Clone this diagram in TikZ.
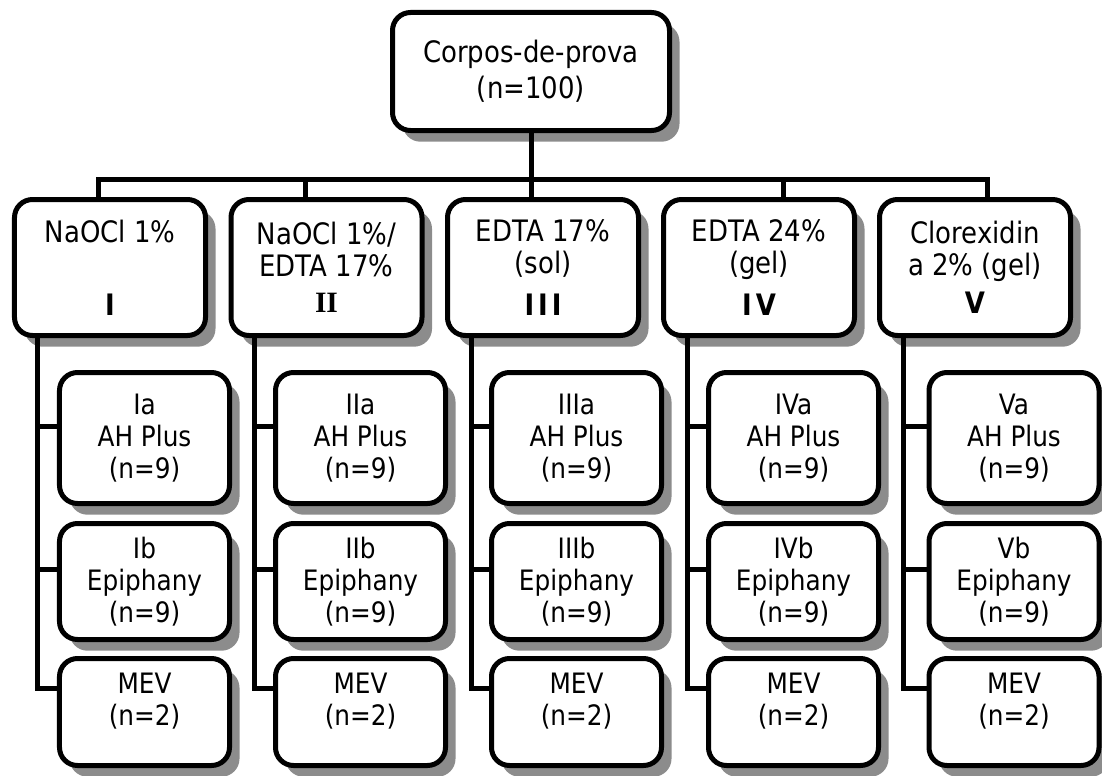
\documentclass[tikz,border=0pt]{standalone}
\usepackage{fontspec}
\setmainfont{DejaVu Sans}[FakeStretch=0.88]
\newfontfamily\romfont{Liberation Serif}
\usetikzlibrary{shadows}

\tikzset{
  box/.style={draw, line width=1.25mm, rounded corners=4.5mm, fill=white, align=center, inner sep=0pt,
    drop shadow={shadow xshift=2.5mm, shadow yshift=-2.8mm, fill=black!45, opacity=1}},
  group/.style={box, minimum width=47.75mm, minimum height=34mm, font=\fontsize{21}{22.7}\selectfont},
  sub/.style={box, minimum width=42.5mm, font=\fontsize{20}{22.7}\selectfont},
  link/.style={line width=1.25mm}
}

\begin{document}
\begin{tikzpicture}[x=0.25mm, y=-0.25mm]
\useasboundingbox (0,0) rectangle (1102,776);
\node[box, minimum width=69.25mm, minimum height=29.5mm, font=\fontsize{21}{22.7}\selectfont] (root) at (531,71.5) {Corpos-de-prova\\[1mm](n=100)};
\node[group] (gI) at (110,267.5) {NaOCl 1\%\\[10.25mm]\textbf{I}};
\node[group] (gII) at (326.5,267.5) {NaOCl 1\%/\\EDTA 17\%\\[1mm]{\romfont\bfseries\fontsize{21}{22}\selectfont II}};
\node[group] (gIII) at (543,267.5) {EDTA 17\%\\(sol)\\[2.5mm]\textbf{I\kern1mm I\kern1mm I}};
\node[group] (gIV) at (759,267.5) {EDTA 24\%\\(gel)\\[2.5mm]\textbf{I\kern1mm V}};
\node[group] (gV) at (975,267.5) {Clorexidin\\a 2\% (gel)\\[1.5mm]\textbf{V}};
\node[sub, minimum height=32.75mm] (aI) at (144.5,438) {Ia\\AH Plus\\(n=9)};
\node[sub, minimum height=32.75mm] (aII) at (360.5,438) {IIa\\AH Plus\\(n=9)};
\node[sub, minimum height=32.75mm] (aIII) at (576.5,438) {IIIa\\AH Plus\\(n=9)};
\node[sub, minimum height=32.75mm] (aIV) at (793.5,438) {IVa\\AH Plus\\(n=9)};
\node[sub, minimum height=32.75mm] (aV) at (1014,438) {Va\\AH Plus\\(n=9)};
\node[sub, minimum height=29mm] (bI) at (144.5,581.5) {Ib\\Epiphany\\(n=9)};
\node[sub, minimum height=29mm] (bII) at (360.5,581.5) {IIb\\Epiphany\\(n=9)};
\node[sub, minimum height=29mm] (bIII) at (576.5,581.5) {IIIb\\Epiphany\\(n=9)};
\node[sub, minimum height=29mm] (bIV) at (793.5,581.5) {IVb\\Epiphany\\(n=9)};
\node[sub, minimum height=29mm] (bV) at (1014,581.5) {Vb\\Epiphany\\(n=9)};
\node[sub, minimum height=26.75mm] (mI) at (144.5,712) {MEV\\(n=2)\\[-1.5mm]\mbox{}};
\node[sub, minimum height=26.75mm] (mII) at (360.5,712) {MEV\\(n=2)\\[-1.5mm]\mbox{}};
\node[sub, minimum height=26.75mm] (mIII) at (576.5,712) {MEV\\(n=2)\\[-1.5mm]\mbox{}};
\node[sub, minimum height=26.75mm] (mIV) at (793.5,712) {MEV\\(n=2)\\[-1.5mm]\mbox{}};
\node[sub, minimum height=26.75mm] (mV) at (1014,712) {MEV\\(n=2)\\[-1.5mm]\mbox{}};
\coordinate (bus) at (531,179);
\draw[link] (root.south) -- (bus);
\draw[link] ([xshift=-3mm]gI.north) |- (bus) -| ([xshift=3mm]gV.north);
\draw[link] ([xshift=-5.25mm]gII.north) -- ([xshift=-5.25mm]gII.north |- bus);
\draw[link] ([xshift=-3mm]gIII.north) -- ([xshift=-3mm]gIII.north |- bus);
\draw[link] ([xshift=6mm]gIV.north) -- ([xshift=6mm]gIV.north |- bus);
\coordinate (vI) at ([xshift=6.5mm]gI.south west);
\coordinate (vII) at ([xshift=6.5mm]gII.south west);
\coordinate (vIII) at ([xshift=6.5mm]gIII.south west);
\coordinate (vIV) at ([xshift=6.5mm]gIV.south west);
\coordinate (vV) at ([xshift=6.5mm]gV.south west);
\draw[link] (vI) |- ([yshift=3mm]aI.west);
\draw[link] (vI) |- ([yshift=3mm]bI.west);
\draw[link] (vI) |- ([yshift=6mm]mI.west);
\draw[link] (vII) |- ([yshift=3mm]aII.west);
\draw[link] (vII) |- ([yshift=3mm]bII.west);
\draw[link] (vII) |- ([yshift=6mm]mII.west);
\draw[link] (vIII) |- ([yshift=3mm]aIII.west);
\draw[link] (vIII) |- ([yshift=3mm]bIII.west);
\draw[link] (vIII) |- ([yshift=6mm]mIII.west);
\draw[link] (vIV) |- ([yshift=3mm]aIV.west);
\draw[link] (vIV) |- ([yshift=3mm]bIV.west);
\draw[link] (vIV) |- ([yshift=6mm]mIV.west);
\draw[link] (vV) |- ([yshift=3mm]aV.west);
\draw[link] (vV) |- ([yshift=3mm]bV.west);
\draw[link] (vV) |- ([yshift=6mm]mV.west);
\end{tikzpicture}
\end{document}
